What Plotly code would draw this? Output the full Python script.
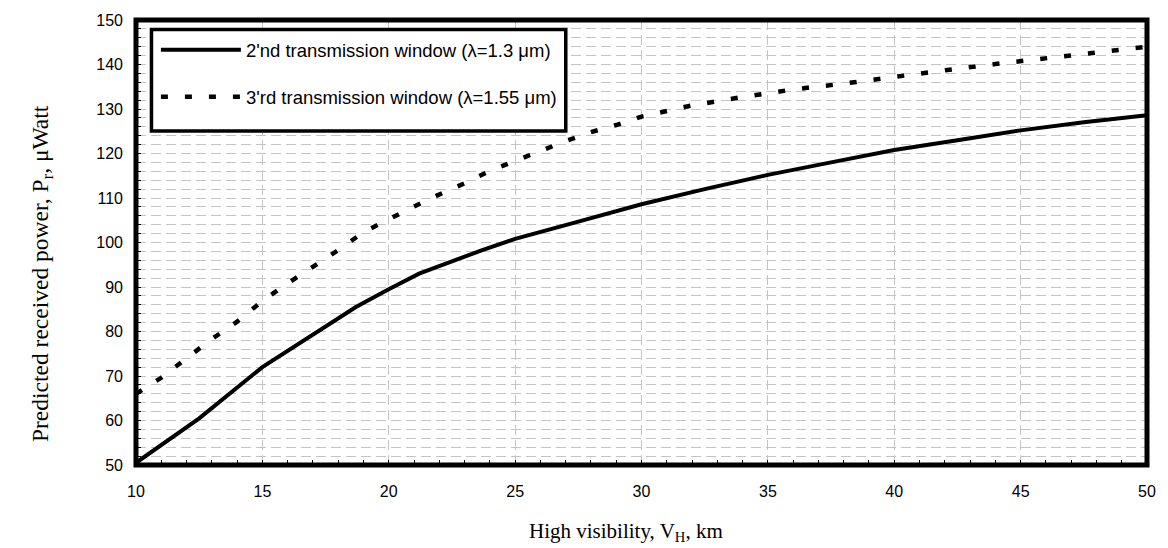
import plotly.graph_objects as go

# Data
vis_13 = [10, 12.5, 15, 17.5, 18.7, 20, 21.2, 23.7, 25, 27.5, 30, 32.5, 35, 37.5, 40, 42.5, 45, 47.5, 50]
pwr_13 = [50.5, 60.5, 72.0, 81.0, 85.5, 89.5, 93.0, 98.3, 100.8, 104.7, 108.6, 112.0, 115.2, 118.0, 120.8, 123.0, 125.2, 127.0, 128.6]

vis_155 = [10, 11, 12, 13, 14, 15, 16, 17, 18, 19, 20, 21, 22, 23, 24, 25, 26, 27, 28, 29, 30,
           32, 34, 36, 38, 40, 42, 44, 46, 48, 50]
pwr_155 = [66.0, 69.6, 74.0, 78.3, 82.2, 86.9, 90.8, 94.5, 98.3, 102.3, 105.3, 108.1, 110.8, 113.3, 116.1,
           118.4, 120.6, 122.8, 124.8, 126.4, 128.3, 130.8, 132.7, 134.4, 135.7, 137.3, 138.7, 140.1,
           141.3, 142.7, 144.0]

name_13 = "2'nd transmission window (λ=1.3 μm)"
name_155 = "3'rd transmission window (λ=1.55 μm)"

x_ticks = [10, 15, 20, 25, 30, 35, 40, 45, 50]
y_ticks = [50, 60, 70, 80, 90, 100, 110, 120, 130, 140, 150]

x_title = "High visibility, V<sub>H</sub>, km"
y_title = "Predicted received power, P<sub>r</sub>, μWatt"

fig = go.Figure()
fig.add_trace(go.Scatter(x=vis_13, y=pwr_13, mode="lines", name=name_13, legendgroup="a",
                         line=dict(color="black", width=4)))
fig.add_trace(go.Scatter(x=vis_155, y=pwr_155, mode="lines", name=name_155, legendgroup="b",
                         line=dict(color="black", width=4.5, dash="7px,17px")))

grid_col = "#c4c4c4"
fig.update_layout(
    width=1168, height=548,
    margin=dict(l=136, r=17, t=16, b=83),
    paper_bgcolor="white", plot_bgcolor="white",
    font=dict(family="Liberation Sans, Arial", color="black"),
    showlegend=True,
    legend=dict(x=0.0197, y=0.975, xanchor="left", yanchor="top",
                borderwidth=0, bgcolor="rgba(0,0,0,0)",
                itemwidth=80, tracegroupgap=20, traceorder="grouped",
                font=dict(family="Liberation Sans, Arial", size=18.5, color="black")),
    xaxis=dict(range=[10, 50], tickvals=x_ticks, ticktext=[str(v) for v in x_ticks],
               showgrid=True, gridcolor=grid_col, griddash="10px,5px", gridwidth=1,
               zeroline=False, showline=False,
               ticks="inside", ticklen=5, tickcolor="black",
               minor=dict(dtick=1, ticks="inside", ticklen=5, tickcolor="black", showgrid=False),
               tickfont=dict(size=16, family="Liberation Sans, Arial", color="black"),
               ticklabelstandoff=15),
    yaxis=dict(range=[50, 150], tickvals=y_ticks, ticktext=[str(v) for v in y_ticks],
               showgrid=True, gridcolor=grid_col, griddash="10px,5px", gridwidth=1,
               zeroline=False, showline=False,
               ticks="inside", ticklen=5, tickcolor="black",
               minor=dict(dtick=2, ticks="inside", ticklen=5, tickcolor="black",
                          showgrid=True, gridcolor=grid_col, griddash="10px,5px", gridwidth=1),
               tickfont=dict(size=16, family="Liberation Sans, Arial", color="black"),
               ticklabelstandoff=12),
    shapes=[
        dict(type="rect", xref="paper", yref="paper", x0=0.0153, x1=0.4251, y0=0.7506, y1=0.9789,
             line=dict(color="black", width=3.5), fillcolor="white", layer="above"),
        dict(type="rect", xref="x domain", yref="y domain", x0=0, x1=1, y0=0, y1=1,
             line=dict(color="black", width=5), fillcolor="rgba(0,0,0,0)", layer="above"),
    ],
    annotations=[
        dict(text=x_title, xref="paper", yref="paper", x=0.4847, y=-0.1514,
             xanchor="center", yanchor="middle", showarrow=False,
             font=dict(family="Liberation Serif, Times New Roman", size=21, color="black")),
        dict(text=y_title, xref="paper", yref="paper", x=-0.0936, y=0.43,
             xanchor="center", yanchor="middle", showarrow=False, textangle=-90,
             font=dict(family="Liberation Serif, Times New Roman", size=23.5, color="black")),
    ],
)

fig.write_html("out.html")
